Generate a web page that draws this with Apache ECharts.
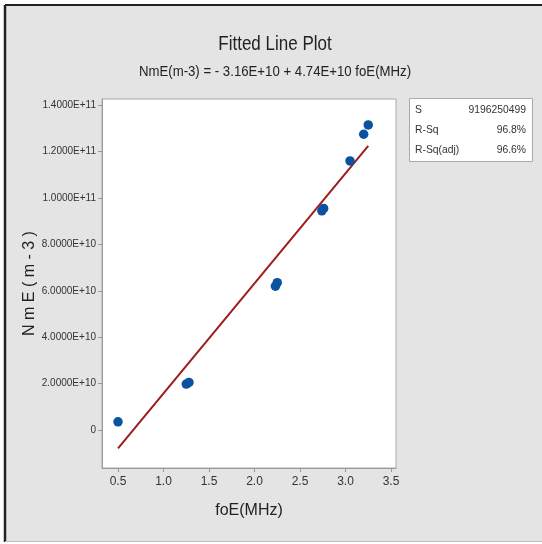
<!DOCTYPE html>
<html><head><meta charset="utf-8">
<script src="https://cdn.jsdelivr.net/npm/echarts@6/dist/echarts.min.js"></script>
<style>html,body{margin:0;padding:0;background:#fff}#c{width:542px;height:544px}</style>
</head><body><div id="c"></div>
<script>
// foE (MHz) observations
const foE = [0.5, 1.25, 1.28, 2.23, 2.25, 2.74, 2.76, 3.05, 3.2, 3.25];
// NmE (m-3) observations
const nmE = [3.5e9, 1.98e10, 2.05e10, 6.2e10, 6.35e10, 9.45e10, 9.55e10, 1.16e11, 1.275e11, 1.315e11];
// fitted line end points
const fitX = [0.5, 3.25];
const fitY = [-7.9e9, 1.225e11];
// tick values
const xTicks = [0.5, 1.0, 1.5, 2.0, 2.5, 3.0, 3.5];
const yTicks = [0, 2e10, 4e10, 6e10, 8e10, 1e11, 1.2e11, 1.4e11];
const statNames = ['S', 'R-Sq', 'R-Sq(adj)'];
const statValues = ['9196250499', '96.8%', '96.6%'];

const FONT = '"Liberation Sans",Arial,sans-serif';
const chart = echarts.init(document.getElementById('c'), null, {renderer: 'canvas'});

const graphics = [
  {type: 'rect', shape: {x: 5, y: 5, width: 537, height: 537}, z: -10, silent: true,
    style: {fill: '#e4e4e4', stroke: null}},
  {type: 'line', shape: {x1: 5, y1: 5, x2: 542, y2: 5}, z: -9, style: {stroke: '#222', lineWidth: 2}},
  {type: 'line', shape: {x1: 5, y1: 5, x2: 5, y2: 542}, z: -9, style: {stroke: '#222', lineWidth: 2.5}},
  {type: 'line', shape: {x1: 5, y1: 541.5, x2: 542, y2: 541.5}, z: -9, style: {stroke: '#bbb', lineWidth: 1}},
  {type: 'rect', shape: {x: 409.5, y: 98.5, width: 123, height: 63}, z: 9,
    style: {fill: '#fff', stroke: '#aaa', lineWidth: 1}},
  {type: 'text', x: 275, y: 44, scaleX: 0.85, z: 10,
    style: {text: 'Fitted Line Plot', font: '20px ' + FONT, fill: '#222', textAlign: 'center', textVerticalAlign: 'middle'}},
  {type: 'text', x: 275, y: 72, scaleX: 0.88, z: 10,
    style: {text: 'NmE(m-3) = - 3.16E+10 + 4.74E+10 foE(MHz)', font: '15px ' + FONT, fill: '#222', textAlign: 'center', textVerticalAlign: 'middle'}}
];
statNames.forEach((n, i) => {
  graphics.push({type: 'text', x: 415, y: 110 + i * 20, scaleX: 0.9, z: 10,
    style: {text: n, font: '11.5px ' + FONT, fill: '#333', textVerticalAlign: 'middle'}});
  graphics.push({type: 'text', x: 526, y: 110 + i * 20, scaleX: 0.9, z: 10,
    style: {text: statValues[i], font: '11.5px ' + FONT, fill: '#333', textAlign: 'right', textVerticalAlign: 'middle'}});
});

chart.setOption({
  backgroundColor: '#ffffff',
  animation: false,
  graphic: graphics,
  grid: {left: 102, top: 99, right: 146, bottom: 76, show: true, backgroundColor: '#fff', borderColor: '#aaa', borderWidth: 1},
  xAxis: {
    type: 'value', min: 0.324, max: 3.555,
    name: 'foE(MHz)', nameLocation: 'middle', nameGap: 35,
    nameTextStyle: {fontFamily: FONT, fontSize: 16, color: '#222'},
    axisLine: {show: true, onZero: false, lineStyle: {color: '#999'}},
    axisTick: {show: true, length: 4, lineStyle: {color: '#999'}, customValues: xTicks},
    axisLabel: {customValues: xTicks, formatter: v => v.toFixed(1), fontFamily: FONT, fontSize: 12, color: '#333', margin: 8},
    splitLine: {show: false}
  },
  yAxis: {
    type: 'value', min: -1.64e10, max: 1.427e11,
    name: 'N m E ( m - 3 )', nameLocation: 'middle', nameGap: 64, nameMoveOverlap: false,
    nameTextStyle: {fontFamily: FONT, fontSize: 16, color: '#222'},
    axisLine: {show: true, onZero: false, lineStyle: {color: '#999'}},
    axisTick: {show: true, length: 4, lineStyle: {color: '#999'}, customValues: yTicks},
    axisLabel: {customValues: yTicks, formatter: v => v === 0 ? '0' : v.toExponential(4).toUpperCase(), fontFamily: FONT, fontSize: 10, color: '#333', margin: 6},
    splitLine: {show: false}
  },
  series: [
    {type: 'line', data: fitX.map((x, i) => [x, fitY[i]]), symbol: 'none', lineStyle: {color: '#9e1c1c', width: 2}, z: 2},
    {type: 'scatter', data: foE.map((x, i) => [x, nmE[i]]), symbolSize: 9.5, itemStyle: {color: '#0b52a0', opacity: 1}, z: 3}
  ]
});
</script></body></html>
